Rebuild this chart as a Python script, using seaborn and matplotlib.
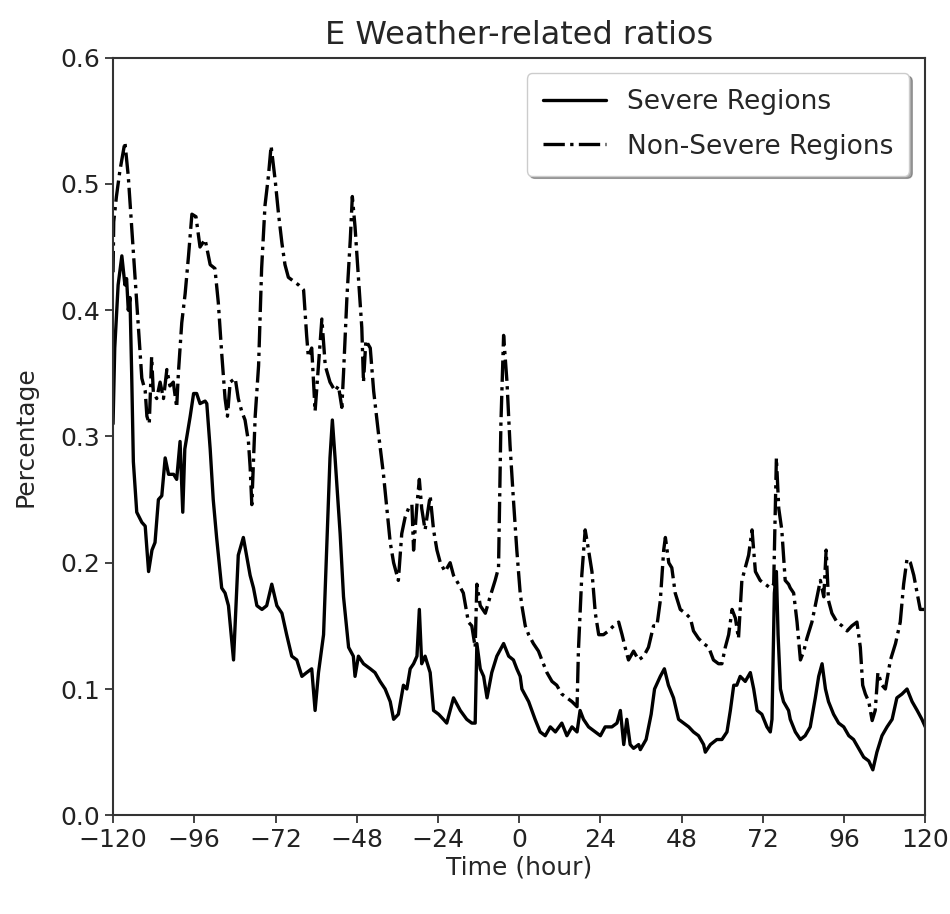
import matplotlib
matplotlib.use("Agg")
import matplotlib.pyplot as plt
import seaborn as sns
import pandas as pd

# ---- data (hours relative to event, ratio) ----
severe_hours = [-120, -119.5, -118.5, -117.4, -116.5, -116, -115.5, -115, -114.5, -114, -113, -111.5,
                -110.5, -109.5, -108.5, -107.6, -106.6, -105.6, -104.6, -103.6, -102.1, -101.2, -100.2,
                -99.4, -98.8, -97.2, -96.2, -95.3, -94.3, -92.8, -92.3, -91.3, -90.4, -89.4, -87.9, -86.9,
                -85.9, -84.4, -83, -81.5, -80.5, -79.5, -78.5, -77.5, -76, -74.6, -73.1, -71.6, -70.1,
                -68.7, -67.2, -65.7, -64.2, -62.8, -61.3, -60.3, -59.3, -57.8, -56.9, -55.9, -55.2, -54.4,
                -52.9, -51.9, -50.4, -49, -48.5, -47.5, -46, -44, -42.6, -41.1, -39.6, -38.1, -37.1, -35.7,
                -34.2, -33.2, -32.2, -31.2, -30.2, -29.5, -28.8, -27.8, -26.3, -25.3, -23.8, -22.4, -21.4,
                -20.4, -19.4, -17.4, -15.5, -14, -13, -12.5, -11.5, -10.5, -9.5, -8.1, -6.6, -4.6, -3.1,
                -1.7, -0.7, 0.3, 0.8, 2.8, 4.7, 6.2, 7.7, 9.2, 10.7, 12.6, 14.1, 15.6, 17.1, 18.0, 19.0,
                20.5, 22.5, 24, 25.4, 27.4, 28.9, 29.9, 30.9, 31.8, 32.8, 33.8, 35.3, 35.8, 37.5, 39, 40,
                41.7, 42.9, 44.1, 45.6, 47.1, 48.6, 50.1, 51.5, 53, 54.5, 55, 56.5, 58.4, 59.9, 61.4, 62.4,
                63.4, 64.3, 65.3, 66.8, 68.3, 69.3, 70.3, 71.7, 73.2, 74.2, 74.7, 75.4, 76, 76.5, 77.2,
                78.1, 79.6, 80.1, 81.6, 83.1, 84.5, 86, 87.5, 88.5, 89.5, 90.5, 91.4, 92.9, 94.4, 95.9,
                97.4, 98.8, 100.3, 101.8, 103.3, 104.5, 105.7, 107.2, 108.7, 110.2, 111.6, 113.1, 114.6,
                116.1, 117.6, 119, 120]
severe_vals = [0.31, 0.37, 0.42, 0.443, 0.42, 0.425, 0.40, 0.41, 0.35, 0.28, 0.24, 0.232,
               0.229, 0.193, 0.21, 0.216, 0.25, 0.253, 0.283, 0.27, 0.27, 0.266, 0.296,
               0.24, 0.29, 0.316, 0.334, 0.334, 0.326, 0.328, 0.326, 0.29, 0.25, 0.22, 0.18, 0.176,
               0.166, 0.123, 0.206, 0.22, 0.205, 0.19, 0.18, 0.166, 0.163, 0.166, 0.183, 0.166, 0.16,
               0.143, 0.126, 0.123, 0.11, 0.113, 0.116, 0.083, 0.113, 0.143, 0.21, 0.283, 0.313, 0.283,
               0.223, 0.173, 0.133, 0.126, 0.11, 0.126, 0.12, 0.116, 0.113, 0.106, 0.1, 0.09, 0.076, 0.08,
               0.103, 0.1, 0.116, 0.12, 0.126, 0.163, 0.12, 0.126, 0.113, 0.083, 0.08, 0.076, 0.073,
               0.083, 0.093, 0.083, 0.076, 0.073, 0.073, 0.136, 0.116, 0.11, 0.093, 0.113, 0.126, 0.136, 0.126,
               0.123, 0.116, 0.11, 0.1, 0.09, 0.076, 0.066, 0.063, 0.07, 0.066, 0.073, 0.063, 0.07, 0.066, 0.083, 0.076,
               0.07, 0.066, 0.063, 0.07, 0.07, 0.073, 0.083, 0.056, 0.076, 0.056, 0.053, 0.056, 0.052, 0.06, 0.08, 0.1,
               0.11, 0.116, 0.103, 0.093, 0.076, 0.073, 0.07, 0.066, 0.063, 0.056, 0.05, 0.056, 0.06, 0.06, 0.066, 0.083,
               0.103, 0.103, 0.11, 0.106, 0.113, 0.1, 0.083, 0.08, 0.07, 0.066, 0.076, 0.176, 0.193, 0.143, 0.1,
               0.09, 0.083, 0.076, 0.066, 0.06, 0.063, 0.07, 0.093, 0.11, 0.12, 0.1, 0.09, 0.08, 0.073, 0.07,
               0.063, 0.06, 0.053, 0.046, 0.043, 0.036, 0.05, 0.063, 0.07, 0.076, 0.093, 0.096, 0.1,
               0.09, 0.083, 0.076, 0.07]

nonsevere_hours = [-120, -119.8, -119, -118, -116.5, -115.5, -114.5, -113.5, -112.5, -111.5, -110.5, -110,
                   -109.3, -108.6, -108.1, -107.1, -106.1, -105.1, -104.1, -103.2, -102.2, -101.2, -100.7,
                   -99.7, -98.7, -97.7, -96.7, -95.5, -94.3, -92.8, -91.3, -89.9, -88.9, -87.9, -86.9, -86.2,
                   -85.4, -83.9, -83, -82, -81, -80, -79.5, -79, -78.5, -78, -77, -76.1, -75.1, -74.1, -73.3,
                   -72.1, -71.1, -70.1, -69.2, -68.2, -66.7, -65.2, -63.7, -62.8, -62.3, -61.3, -60.3, -59.3,
                   -58.3, -57.3, -55.9, -54.4, -53.4, -52.4, -51.9, -50.9, -49.9, -49.3, -48.5, -47.5, -46.5,
                   -46, -45.3, -44, -43, -41.6, -41, -40.1, -39.1, -38.1, -37.1, -35.7, -34.7, -33.7, -32.7,
                   -31.7, -31.2, -30.2, -29.5, -28.8, -27.8, -26.3, -25.3, -24.3, -23.3, -21.9, -20.4, -19.4,
                   -17.9, -16.5, -15, -14, -13, -12.5, -11.5, -10, -8.6, -7.1, -6.1, -5.4, -4.6, -3.6, -2.7,
                   -1.7, -0.7, 0.3, 0.8, 1.8, 2.8, 4.2, 5.7, 6.7, 8.2, 9.7, 11.1, 12.6, 14.1, 15.6, 17.1,
                   17.5, 18.5, 19.5, 20.5, 21.5, 22.5, 23.5, 24.9, 26.4, 27.9, 29.4, 30.4, 31.3, 32.3, 33.8,
                   35.3, 36.8, 38.2, 39.7, 40.7, 41.7, 42.7, 43.2, 44.2, 45.1, 46.1, 47.6, 49.1, 50.6, 51.5,
                   53, 54.5, 56, 57.4, 58.9, 59.9, 60.9, 61.9, 62.9, 63.9, 64.8, 65.8, 66.8, 67.8, 68.8,
                   69.8, 71.2, 72.7, 74.2, 75.2, 76, 76.7, 77.6, 78.6, 79.6, 80.1, 81.1, 82.1, 83.1, 84.1,
                   85, 86.5, 88, 89, 90, 90.7, 91.4, 92.4, 93.9, 95.4, 96.9, 98.3, 99.8, 100.8, 101.5, 102.3,
                   103.3, 104.3, 105.2, 106, 107.2, 108.2, 109.7, 111.2, 112.6, 113.6, 114.6, 115.6, 116.6,
                   117.6, 118.5, 120]
nonsevere_vals = [0.43, 0.47, 0.49, 0.51, 0.533, 0.506, 0.466, 0.426, 0.386, 0.346, 0.336, 0.316,
                  0.31, 0.363, 0.335, 0.33, 0.343, 0.33, 0.353, 0.34, 0.343, 0.323, 0.35,
                  0.39, 0.413, 0.443, 0.476, 0.474, 0.45, 0.456, 0.436, 0.433, 0.406, 0.366, 0.33, 0.316,
                  0.343, 0.346, 0.33, 0.32, 0.313, 0.296, 0.276, 0.246, 0.28, 0.316, 0.356, 0.433, 0.483, 0.506, 0.53,
                  0.503, 0.476, 0.453, 0.436, 0.426, 0.423, 0.42, 0.416, 0.38, 0.363, 0.37, 0.32, 0.356,
                  0.393, 0.356, 0.343, 0.336, 0.34, 0.323, 0.35, 0.41, 0.456, 0.49, 0.466, 0.426, 0.386,
                  0.343, 0.376, 0.37, 0.336, 0.303, 0.29, 0.27, 0.243, 0.216, 0.2, 0.186, 0.223, 0.236, 0.243,
                  0.246, 0.21, 0.246, 0.266, 0.243, 0.226, 0.253, 0.226, 0.21, 0.2, 0.193, 0.2, 0.19,
                  0.183, 0.176, 0.153, 0.15, 0.133, 0.183, 0.166, 0.16, 0.173, 0.186, 0.196, 0.31, 0.38, 0.343, 0.293,
                  0.25, 0.21, 0.176, 0.166, 0.15, 0.143, 0.136, 0.13, 0.123, 0.113, 0.106, 0.103, 0.096, 0.093, 0.09, 0.086,
                  0.13, 0.19, 0.226, 0.21, 0.193, 0.16, 0.143, 0.143, 0.146, 0.15, 0.153, 0.143, 0.133, 0.123, 0.13,
                  0.123, 0.126, 0.133, 0.15, 0.15, 0.17, 0.21, 0.22, 0.2, 0.196, 0.176, 0.163, 0.16, 0.156, 0.146,
                  0.14, 0.136, 0.133, 0.123, 0.12, 0.12, 0.133, 0.143, 0.163, 0.156, 0.14, 0.186, 0.196, 0.206, 0.226,
                  0.193, 0.186, 0.183, 0.18, 0.183, 0.283, 0.243, 0.226, 0.186, 0.183, 0.18, 0.176, 0.153, 0.123, 0.13,
                  0.14, 0.153, 0.173, 0.186, 0.173, 0.21, 0.17, 0.16, 0.153, 0.15, 0.146, 0.15, 0.153, 0.133, 0.103, 0.096,
                  0.09, 0.075, 0.083, 0.113, 0.103, 0.1, 0.123, 0.136, 0.153, 0.183, 0.203, 0.2, 0.19,
                  0.176, 0.163, 0.163]

title = "E Weather-related ratios"
xlabel = "Time (hour)"
ylabel = "Percentage"
labels = ["Severe Regions", "Non-Severe Regions"]
xticks = [-120, -96, -72, -48, -24, 0, 24, 48, 72, 96, 120]
yticks = [0.0, 0.1, 0.2, 0.3, 0.4, 0.5, 0.6]

sns.set_style("ticks")
plt.rcParams["font.family"] = ["DejaVu Sans"]

fig = plt.figure(figsize=(9.5, 9.14), dpi=100)
ax = fig.add_axes([0.119, 0.108, 0.855, 0.829])

df_s = pd.DataFrame({"hour": severe_hours, "val": severe_vals})
df_n = pd.DataFrame({"hour": nonsevere_hours, "val": nonsevere_vals})

sns.lineplot(data=df_s, x="hour", y="val", ax=ax, color="black", linewidth=2.4,
             estimator=None, sort=False, label=labels[0])
sns.lineplot(data=df_n, x="hour", y="val", ax=ax, color="black", linewidth=2.4,
             linestyle="-.", estimator=None, sort=False, label=labels[1])

ax.set_xlim(-120, 120)
ax.set_ylim(0, 0.6)
ax.set_xticks(xticks)
ax.set_yticks(yticks)
ax.set_xticklabels([f"{t}".replace("-", "\u2212") for t in xticks])
ax.set_yticklabels([f"{t:.1f}" for t in yticks])
ax.tick_params(labelsize=18, length=6, width=1.2, colors="#222222")
for s in ax.spines.values():
    s.set_linewidth(1.5)
    s.set_color("#333333")

ax.set_title(title, fontsize=23, pad=10)
ax.set_xlabel(xlabel, fontsize=18, labelpad=2)
ax.set_ylabel(ylabel, fontsize=18, labelpad=16)

leg = ax.legend(loc="upper right", fontsize=19, shadow=True, fancybox=True,
                framealpha=1, handlelength=2.4, borderpad=0.6, labelspacing=0.7,
                borderaxespad=0.6)

fig.savefig("out.png", dpi=100)
